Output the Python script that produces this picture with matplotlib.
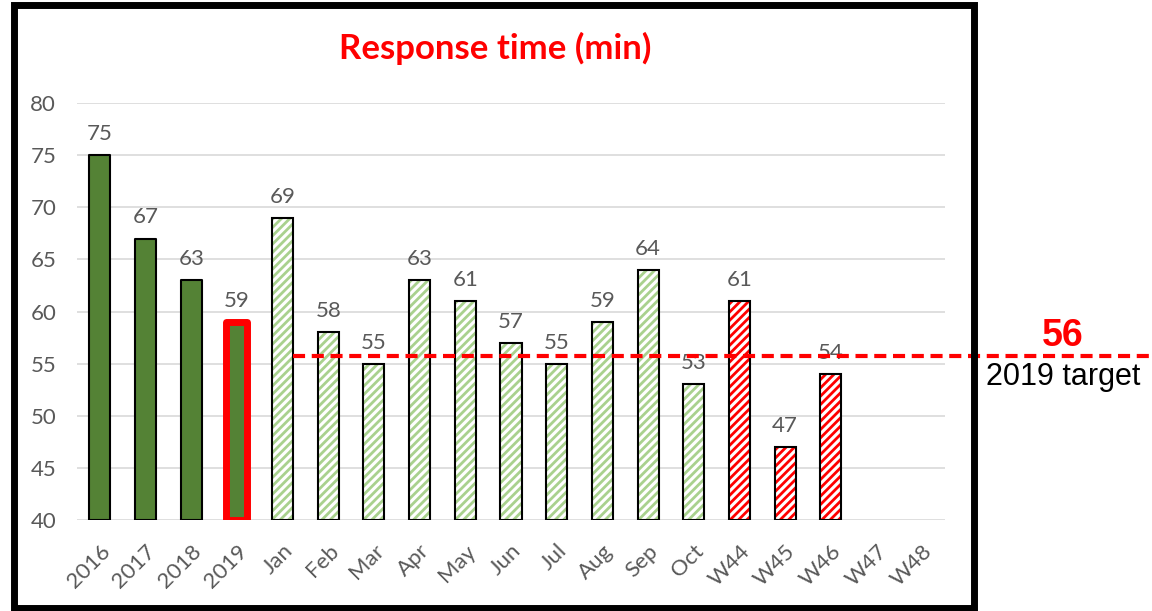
import matplotlib

matplotlib.use("Agg")
import matplotlib.pyplot as plt
from matplotlib.patches import Rectangle

categories = ["2016", "2017", "2018", "2019", "Jan", "Feb", "Mar", "Apr", "May",
              "Jun", "Jul", "Aug", "Sep", "Oct", "W44", "W45", "W46", "W47", "W48"]
values = [75, 67, 63, 59, 69, 58, 55, 63, 61, 57, 55, 59, 64, 53, 61, 47, 54, None, None]
kinds = ["year"] * 4 + ["month"] * 10 + ["week"] * 5
target = 55.7
target_label = "56"
target_text = "2019 target"

GREEN = "#548235"
LIGHT_GREEN = "#A9D18E"
RED = "#FF0000"
GREY = "#595959"
GRID = "#D9D9D9"

plt.rcParams["hatch.linewidth"] = 2.0
FONT = ["Lato", "DejaVu Sans"]

fig = plt.figure(figsize=(11.52, 6.11), dpi=100)
left, width = 77 / 1152, 868 / 1152
bottom, height = 1 - 520 / 611, 417 / 611
ax = fig.add_axes([left, bottom, width, height])

w = 0.46
for i, (v, k) in enumerate(zip(values, kinds)):
    if v is None:
        continue
    if k == "year":
        is_2019 = categories[i] == "2019"
        ax.bar(i, v - 40, bottom=40, width=w, color=GREEN,
               edgecolor=RED if is_2019 else "black",
               linewidth=5.0 if is_2019 else 1.5, joinstyle="round", zorder=3)
    else:
        hc = LIGHT_GREEN if k == "month" else RED
        ax.bar(i, v - 40, bottom=40, width=w, color="white", edgecolor=hc,
               hatch="////", linewidth=0, zorder=3)
        ax.bar(i, v - 40, bottom=40, width=w, color="none", edgecolor="black",
               linewidth=1.5, zorder=4)
    ax.annotate(f"{v}", (i, v), xytext=(0, 8), textcoords="offset points",
                ha="center", va="bottom", fontsize=16, color=GREY,
                family=FONT, zorder=5)

ax.set_xlim(-0.5, len(categories) - 0.5)
ax.set_ylim(40, 80)
ax.set_yticks(range(40, 81, 5))
ax.yaxis.grid(True, color=GRID, lw=1.2, zorder=0)
ax.set_axisbelow(True)
for s in ax.spines.values():
    s.set_visible(False)
ax.tick_params(length=0, colors=GREY, labelsize=16)
ax.tick_params(axis="y", pad=15)
ax.tick_params(axis="x", pad=15)
ax.set_xticks(range(len(categories)))
ax.set_xticklabels(categories, rotation=45, ha="right", rotation_mode="anchor",
                   family=FONT)
for lab in ax.get_yticklabels():
    lab.set_family(FONT)

# target line: from right edge of Jan bar to the right edge of the figure
x_end = -0.5 + (1150 / 1152 - left) / width * len(categories)
ax.plot([4 + w / 2, x_end], [target, target], color=RED, lw=3,
        dashes=(2.9, 1.6), clip_on=False, zorder=6)

fig.text(1063 / 1152, 1 - 336 / 611, target_label, color=RED, fontsize=27,
         fontweight="bold", ha="center", va="center", family="Liberation Sans")
fig.text(1063 / 1152, 1 - 377 / 611, target_text, color="black", fontsize=22,
         ha="center", va="center", family="Liberation Sans")

fig.text(495 / 1152, 1 - 48 / 611, "Response time (min)", color=RED, fontsize=25,
         fontweight="bold", ha="center", va="center", family=FONT)

fig.patches.append(Rectangle((13.5 / 1152, 3.5 / 611), 960 / 1152, 603 / 611,
                             transform=fig.transFigure, fill=False,
                             edgecolor="black", lw=5, zorder=0))

fig.savefig("out.png", dpi=100)
